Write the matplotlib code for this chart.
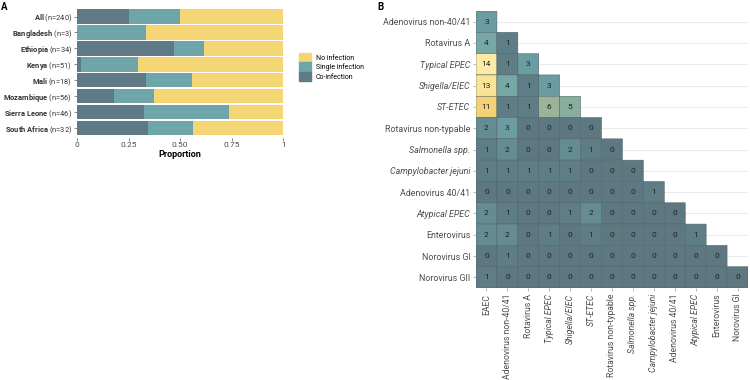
import numpy as np
import matplotlib
matplotlib.use("Agg")
import matplotlib.pyplot as plt
from matplotlib.colors import LinearSegmentedColormap, Normalize
from matplotlib.patches import Patch

plt.rcParams["font.family"] = ["Roboto", "DejaVu Sans"]
plt.rcParams["mathtext.fontset"] = "custom"
plt.rcParams["mathtext.rm"] = "Roboto"
plt.rcParams["mathtext.bf"] = "Roboto:bold"
plt.rcParams["mathtext.it"] = "Roboto:italic"

# ---- panel A data ----
countries = ["All", "Bangladesh", "Ethiopia", "Kenya", "Mali", "Mozambique",
             "Sierra Leone", "South Africa"]
n_total = [240, 3, 34, 51, 18, 56, 46, 32]
n_coinf = [60, 0, 16, 1, 6, 10, 15, 11]
n_single = [60, 1, 5, 14, 4, 11, 19, 7]
prop_ticks = [0, 0.25, 0.5, 0.75, 1]
prop_labels = ["0", "0.25", "0.50", "0.75", "1"]

# ---- panel B data ----
pathogen_rows = ["Adenovirus non-40/41", "Rotavirus A", "Typical EPEC", "Shigella/EIEC",
                 "ST-ETEC", "Rotavirus non-typable", "Salmonella spp.",
                 "Campylobacter jejuni", "Adenovirus 40/41", "Atypical EPEC",
                 "Enterovirus", "Norovirus GI", "Norovirus GII"]
pathogen_cols = ["EAEC", "Adenovirus non-40/41", "Rotavirus A", "Typical EPEC",
                 "Shigella/EIEC", "ST-ETEC", "Rotavirus non-typable", "Salmonella spp.",
                 "Campylobacter jejuni", "Adenovirus 40/41", "Atypical EPEC",
                 "Enterovirus", "Norovirus GI"]
coinf_counts = [
    [3],
    [4, 1],
    [14, 1, 3],
    [13, 4, 1, 3],
    [11, 1, 1, 6, 5],
    [2, 3, 0, 0, 0, 0],
    [1, 2, 0, 0, 2, 1, 0],
    [1, 1, 1, 1, 1, 0, 0, 0],
    [0, 0, 0, 0, 0, 0, 0, 0, 1],
    [2, 1, 0, 0, 1, 2, 0, 0, 0, 0],
    [2, 2, 0, 1, 0, 1, 0, 0, 0, 0, 1],
    [0, 1, 0, 0, 0, 0, 0, 0, 0, 0, 0, 0],
    [1, 0, 0, 0, 0, 0, 0, 0, 0, 0, 0, 0, 0],
]
italic_names = {"Typical EPEC", "Shigella/EIEC", "ST-ETEC", "Salmonella spp.",
                "Campylobacter jejuni", "Atypical EPEC"}

col_co = "#5F7A84"
col_single = "#6EA5A9"
col_none = "#F5D574"
txt_gray = "#4D4D4D"

fig = plt.figure(figsize=(7.5, 3.8), dpi=100)

# ================= panel A =================
axA = fig.add_axes([77 / 750, 1 - 137.6 / 380, 206.3 / 750, 130.6 / 380])
tot = np.array(n_total, dtype=float)
co = np.array(n_coinf) / tot
single = np.array(n_single) / tot
none = 1 - co - single
y = np.arange(len(countries))
axA.barh(y, co, height=0.9, color=col_co)
axA.barh(y, single, left=co, height=0.9, color=col_single)
axA.barh(y, none, left=co + single, height=0.9, color=col_none)
axA.set_ylim(len(countries) - 0.4, -0.6)
axA.set_xlim(0, 1)
axA.set_yticks(y)
axA.set_yticklabels([r"$\bf{%s}$ (n=%d)" % (c.replace(" ", r"\ "), n)
                     for c, n in zip(countries, n_total)], fontsize=5.4, color="#333333")
axA.set_xticks(prop_ticks)
axA.set_xticklabels(prop_labels, fontsize=6, color=txt_gray)
axA.set_xlabel("Proportion", fontsize=6.5, fontweight="bold", labelpad=1)
for s in axA.spines.values():
    s.set_visible(False)
axA.tick_params(length=2, width=0.5, color="#555555", pad=1.5)

handles = [Patch(color=col_none, label="No infection"),
           Patch(color=col_single, label="Single infection"),
           Patch(color=col_co, label="Co-infection")]
fig.legend(handles=handles, loc="upper left", bbox_to_anchor=(299 / 750, 1 - 53 / 380),
           frameon=False, fontsize=5, handlelength=1.7, handleheight=1.7,
           handletextpad=0.7, labelspacing=0.0, borderpad=0, borderaxespad=0)

# ================= panel B =================
nr, nc = len(pathogen_rows), len(pathogen_cols)
mat = np.full((nr, nc), np.nan)
for i, row in enumerate(coinf_counts):
    mat[i, :len(row)] = row
mat = np.ma.masked_invalid(mat)

cmap = LinearSegmentedColormap.from_list(
    "coinf",
    [(0.0, "#5E7882"), (0.08, "#5F7E87"), (0.25, "#6FA5A8"),
     (0.78, "#F3D175"), (1.0, "#FCEBA4")])
norm = Normalize(vmin=0, vmax=14)

axB = fig.add_axes([476 / 750, 1 - 288 / 380, 272 / 750, 277 / 380])
axB.pcolor(np.arange(nc + 1) - 0.5, np.arange(nr + 1) - 0.5, mat, cmap=cmap, norm=norm,
           edgecolors="#4C5F66", linewidth=0.35)
for i, row in enumerate(coinf_counts):
    for j, v in enumerate(row):
        axB.text(j, i, str(v), ha="center", va="center", fontsize=6, color="#222222")
axB.set_xlim(-0.5, nc - 0.5)
axB.set_ylim(nr - 0.5, -0.5)
axB.set_axisbelow(True)
axB.yaxis.grid(True, color="#EBEBEB", linewidth=0.8)
axB.set_yticks(np.arange(nr))
axB.set_yticklabels(pathogen_rows, fontsize=6.4, color=txt_gray)
axB.set_xticks(np.arange(nc))
axB.set_xticklabels(pathogen_cols, fontsize=6.2, color=txt_gray, rotation=90)
for lab in axB.get_yticklabels() + axB.get_xticklabels():
    if lab.get_text() in italic_names:
        lab.set_fontstyle("italic")
for s in axB.spines.values():
    s.set_visible(False)
axB.tick_params(length=2, width=0.5, color="#999999", pad=2)

fig.text(1 / 750, 1 - 2 / 380, "A", fontsize=7, fontweight="bold", va="top")
fig.text(377 / 750, 1 - 2 / 380, "B", fontsize=7, fontweight="bold", va="top")

fig.savefig("out.png", dpi=100)
